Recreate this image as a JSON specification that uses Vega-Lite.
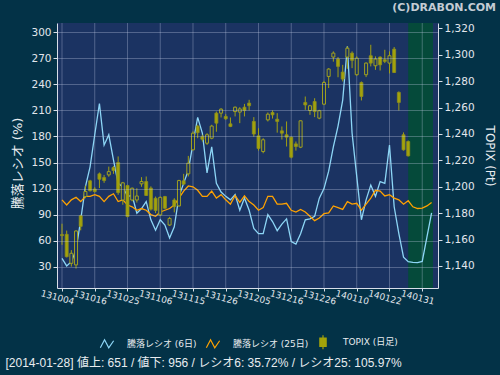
{
  "$schema": "https://vega.github.io/schema/vega-lite/v6.json",
  "width": 381,
  "height": 265,
  "autosize": {"type": "none"},
  "padding": {"left": 57, "top": 23, "right": 62, "bottom": 87},
  "background": "#033247",
  "title": {"text": "(C)DRABON.COM", "anchor": "end", "frame": "group", "dx": 58, "offset": 10, "font": "DejaVu Sans", "fontSize": 11, "fontWeight": "bold", "color": "#c4ccd4"},
  "config": {
    "view": {"fill": "#1b3362", "stroke": null},
    "axis": {"labelFont": "DejaVu Sans", "titleFont": "DejaVu Sans, Noto Sans CJK JP", "labelColor": "#e2e6ec", "titleColor": "#e8ecf0", "titleFontWeight": "normal", "domainColor": "#d8dee8", "tickColor": "#d8dee8", "tickSize": 4, "gridColor": "#c8d0e8", "gridOpacity": 0.32}
  },
  "datasets": {
    "d": [
      {"i":0,"r6":39.6,"r25":107,"o":1163.8,"h":1172,"l":1156,"c":1163},
      {"i":1,"r6":30.8,"r25":101,"o":1164,"h":1166.8,"l":1146.5,"c":1147},
      {"i":2,"r6":35.8,"r25":107,"o":1142,"h":1152,"l":1139.5,"c":1149.6},
      {"i":3,"r6":49,"r25":110,"o":1140.8,"h":1167,"l":1138,"c":1166.5},
      {"i":4,"r6":84,"r25":105,"o":1178,"h":1178.8,"l":1167,"c":1170},
      {"i":5,"r6":122,"r25":111,"o":1192.6,"h":1201,"l":1191.3,"c":1196.4},
      {"i":6,"r6":145,"r25":111,"o":1204.5,"h":1205.3,"l":1196.4,"c":1197},
      {"i":7,"r6":182,"r25":113,"o":1198.3,"h":1199.6,"l":1195.6,"c":1196.4},
      {"i":8,"r6":218,"r25":111,"o":1209.8,"h":1210.8,"l":1199,"c":1205.7},
      {"i":9,"r6":170,"r25":105,"o":1207,"h":1209,"l":1203,"c":1204.7},
      {"i":10,"r6":182,"r25":111,"o":1209,"h":1215.3,"l":1207.6,"c":1211.5},
      {"i":11,"r6":153,"r25":114,"o":1214.6,"h":1215.8,"l":1209.8,"c":1212.3},
      {"i":12,"r6":126,"r25":105,"o":1218.4,"h":1223,"l":1193.9,"c":1195.6},
      {"i":13,"r6":122,"r25":107,"o":1190,"h":1203.7,"l":1186.4,"c":1203},
      {"i":14,"r6":111,"r25":101,"o":1201,"h":1201.5,"l":1177,"c":1177.4},
      {"i":15,"r6":112,"r25":99,"o":1190,"h":1199.4,"l":1189,"c":1198.9},
      {"i":16,"r6":91.5,"r25":95,"o":1190,"h":1198.9,"l":1188,"c":1193},
      {"i":17,"r6":97,"r25":97,"o":1202.2,"h":1207.3,"l":1200,"c":1204},
      {"i":18,"r6":105,"r25":95,"o":1204,"h":1207.8,"l":1193,"c":1193.4},
      {"i":19,"r6":84,"r25":90,"o":1199,"h":1200.3,"l":1182,"c":1183},
      {"i":20,"r6":72,"r25":88,"o":1191.3,"h":1192.6,"l":1180,"c":1182},
      {"i":21,"r6":84,"r25":93,"o":1178.7,"h":1192.6,"l":1177.9,"c":1192},
      {"i":22,"r6":78,"r25":95,"o":1192.6,"h":1193.1,"l":1183,"c":1183.7},
      {"i":23,"r6":63,"r25":97,"o":1171,"h":1177.2,"l":1170.3,"c":1176},
      {"i":24,"r6":76,"r25":101,"o":1190,"h":1191.3,"l":1180.6,"c":1185},
      {"i":25,"r6":111,"r25":109,"o":1185.5,"h":1205.3,"l":1185,"c":1204.7},
      {"i":26,"r6":126,"r25":117,"o":1204.5,"h":1209.8,"l":1201.5,"c":1202},
      {"i":27,"r6":141,"r25":123,"o":1209.8,"h":1223.4,"l":1207.8,"c":1217.9},
      {"i":28,"r6":172,"r25":122,"o":1228,"h":1242,"l":1227.5,"c":1240.6},
      {"i":29,"r6":202,"r25":118,"o":1246,"h":1247,"l":1236.8,"c":1241},
      {"i":30,"r6":184,"r25":111,"o":1238,"h":1239.4,"l":1234.3,"c":1236},
      {"i":31,"r6":138,"r25":111,"o":1233,"h":1240.6,"l":1231.7,"c":1239.4},
      {"i":32,"r6":168,"r25":117,"o":1236.8,"h":1247,"l":1236,"c":1246},
      {"i":33,"r6":126,"r25":109,"o":1255.8,"h":1257,"l":1241.7,"c":1248.2},
      {"i":34,"r6":116,"r25":113,"o":1255.8,"h":1259.6,"l":1252.5,"c":1258.8},
      {"i":35,"r6":111,"r25":107,"o":1253.3,"h":1255,"l":1250.7,"c":1251.5},
      {"i":36,"r6":107,"r25":102,"o":1247.7,"h":1252.5,"l":1245.2,"c":1245.7},
      {"i":37,"r6":113,"r25":112,"o":1257,"h":1260.8,"l":1253.3,"c":1260.3},
      {"i":38,"r6":95,"r25":104,"o":1256.6,"h":1260.3,"l":1248.2,"c":1259},
      {"i":39,"r6":109,"r25":111.5,"o":1260.3,"h":1262.8,"l":1253.3,"c":1257.8},
      {"i":40,"r6":95,"r25":105,"o":1263.4,"h":1265.9,"l":1257.8,"c":1261.4},
      {"i":41,"r6":74,"r25":101,"o":1249.5,"h":1252.8,"l":1238,"c":1240},
      {"i":42,"r6":68,"r25":95,"o":1238.6,"h":1244.4,"l":1227.4,"c":1229},
      {"i":43,"r6":68,"r25":98,"o":1226.7,"h":1236.8,"l":1225.4,"c":1235.6},
      {"i":44,"r6":90,"r25":111,"o":1250.7,"h":1256.3,"l":1249.5,"c":1255},
      {"i":45,"r6":82,"r25":111,"o":1256.3,"h":1257.8,"l":1251.7,"c":1254.5},
      {"i":46,"r6":71.5,"r25":102,"o":1251.2,"h":1255.8,"l":1241,"c":1249.5},
      {"i":47,"r6":79,"r25":102,"o":1242.4,"h":1245.7,"l":1235.8,"c":1240.6},
      {"i":48,"r6":85,"r25":103,"o":1239.4,"h":1249.5,"l":1230.5,"c":1237.6},
      {"i":49,"r6":59,"r25":95,"o":1237.6,"h":1238.1,"l":1221.6,"c":1222.4},
      {"i":50,"r6":56,"r25":93,"o":1232.5,"h":1234.3,"l":1227.4,"c":1230.5},
      {"i":51,"r6":68,"r25":96,"o":1230,"h":1250.2,"l":1229.3,"c":1250},
      {"i":52,"r6":84,"r25":93,"o":1263.9,"h":1268.4,"l":1258.3,"c":1262},
      {"i":53,"r6":85,"r25":88,"o":1257.8,"h":1262.1,"l":1254.5,"c":1261.4},
      {"i":54,"r6":88,"r25":83,"o":1264.6,"h":1267.1,"l":1252.8,"c":1257},
      {"i":55,"r6":109,"r25":86,"o":1252,"h":1258.3,"l":1251.2,"c":1257.6},
      {"i":56,"r6":120,"r25":91,"o":1262.6,"h":1280.3,"l":1261.9,"c":1279},
      {"i":57,"r6":140,"r25":92,"o":1283.6,"h":1289.9,"l":1274.8,"c":1289.2},
      {"i":58,"r6":168,"r25":100,"o":1298.3,"h":1302.6,"l":1294.8,"c":1301.3},
      {"i":59,"r6":192,"r25":98,"o":1296.8,"h":1298.3,"l":1283,"c":1291.2},
      {"i":60,"r6":222,"r25":96,"o":1286.9,"h":1292.4,"l":1279.8,"c":1281.6},
      {"i":61,"r6":284,"r25":105,"o":1298.3,"h":1306.4,"l":1289.4,"c":1305},
      {"i":62,"r6":184,"r25":102,"o":1301.3,"h":1302.6,"l":1289.9,"c":1295.8},
      {"i":63,"r6":134,"r25":103,"o":1284.9,"h":1298.8,"l":1284.1,"c":1297.5},
      {"i":64,"r6":84,"r25":95,"o":1279,"h":1279.8,"l":1265.4,"c":1268.4},
      {"i":65,"r6":107,"r25":102,"o":1284.9,"h":1294.3,"l":1283.1,"c":1293.7},
      {"i":66,"r6":124,"r25":109,"o":1299.3,"h":1307.6,"l":1291.2,"c":1293.7},
      {"i":67,"r6":111,"r25":118,"o":1291.7,"h":1298.8,"l":1288.6,"c":1296.8},
      {"i":68,"r6":128,"r25":117,"o":1298.3,"h":1298.8,"l":1288.1,"c":1292.4},
      {"i":69,"r6":126,"r25":111.5,"o":1296.3,"h":1303.8,"l":1293.7,"c":1295},
      {"i":70,"r6":170,"r25":113,"o":1293.7,"h":1302.6,"l":1285.9,"c":1299.3},
      {"i":71,"r6":99,"r25":109,"o":1304.3,"h":1305.9,"l":1286.2,"c":1286.6},
      {"i":72,"r6":68,"r25":107,"o":1271.5,"h":1272.3,"l":1257.8,"c":1263.9},
      {"i":73,"r6":41,"r25":102,"o":1239.4,"h":1241.2,"l":1227.4,"c":1228},
      {"i":74,"r6":35.72,"r25":105.97,"o":1234.3,"h":1235.1,"l":1223,"c":1223.4},
      {"i":75,"r6":35,"r25":99},
      {"i":76,"r6":34.6,"r25":97},
      {"i":77,"r6":36,"r25":97.5},
      {"i":78,"r6":64,"r25":100},
      {"i":79,"r6":92,"r25":104}
    ],
    "leg": [{"series": "騰落レシオ (6日)"}, {"series": "騰落レシオ (25日)"}, {"series": "TOPIX (日足)"}],
    "zone": [{"start": 74, "end": 79.3}],
    "ticks": [{"g": 0}, {"g": 7}, {"g": 14}, {"g": 21}, {"g": 28}, {"g": 35}, {"g": 42}, {"g": 49}, {"g": 56}, {"g": 63}, {"g": 70}, {"g": 77}]
  },
  "data": {"name": "d"},
  "layer": [
    {"data": {"name": "zone"}, "mark": {"type": "rect", "color": "#054a3a"},
      "encoding": {"x": {"field": "start", "type": "quantitative", "scale": {"domain": [0, 79.3], "nice": false, "zero": false}, "axis": null}, "x2": {"field": "end"}}},
    {"data": {"name": "ticks"}, "mark": {"type": "rule", "color": "#c8d0e8", "opacity": 0.32, "strokeWidth": 1},
      "encoding": {"x": {"field": "g", "type": "quantitative", "axis": null}}},
    {"mark": {"type": "line", "color": "#8dd6f6", "strokeWidth": 1.3},
      "encoding": {
        "x": {"field": "i", "type": "quantitative", "scale": {"domain": [0, 79.3], "nice": false, "zero": false},
          "axis": {"orient": "bottom", "values": [0,7,14,21,28,35,42,49,56,63,70,77],
            "labelExpr": "datum.value == 0 ? '131004' : datum.value == 7 ? '131016' : datum.value == 14 ? '131025' : datum.value == 21 ? '131106' : datum.value == 28 ? '131115' : datum.value == 35 ? '131126' : datum.value == 42 ? '131205' : datum.value == 49 ? '131216' : datum.value == 56 ? '131226' : datum.value == 63 ? '140110' : datum.value == 70 ? '140122' : '140131'",
            "grid": false, "domain": true, "ticks": true, "zindex": 1, "tickSize": 3, "labelAngle": 15, "labelAlign": "center", "labelBaseline": "middle", "labelOffset": -5, "labelPadding": 6, "labelFontSize": 9, "labelFlush": false, "labelOverlap": false, "title": null}},
        "y": {"field": "r6", "type": "quantitative", "scale": {"domain": [5.4, 310.8], "nice": false, "zero": false},
          "axis": {"values": [30,60,90,120,150,180,210,240,270,300], "zindex": 1, "title": "騰落レシオ (%)", "titleFontSize": 13, "titleY": 140, "labelFontSize": 10.5, "grid": true, "titlePadding": 6, "labelPadding": 2}}}},
    {"mark": {"type": "line", "color": "#ffa200", "strokeWidth": 1.3},
      "encoding": {"x": {"field": "i", "type": "quantitative",
          "axis": {"orient": "bottom", "values": [0], "domain": false, "ticks": false, "labels": false, "grid": false, "zindex": 1,
            "title": "[2014-01-28]  値上: 651 / 値下: 956 / レシオ6: 35.72% / レシオ25: 105.97%",
            "titleX": -52, "titleY": 74, "titleAlign": "left", "titleBaseline": "middle", "titleFont": "Liberation Sans, Noto Sans CJK JP", "titleFontSize": 12, "titleColor": "#e8ecf0"}},
        "y": {"field": "r25", "type": "quantitative", "scale": {"domain": [5.4, 310.8], "nice": false, "zero": false}, "axis": null}}},
    {"mark": {"type": "rule", "color": "#a0a014", "strokeWidth": 1},
      "encoding": {"x": {"field": "i", "type": "quantitative", "axis": null},
        "y": {"field": "l", "type": "quantitative", "scale": {"domain": [1123.3, 1324.1], "nice": false, "zero": false},
          "axis": {"orient": "right", "values": [1140,1160,1180,1200,1220,1240,1260,1280,1300,1320], "format": ",d", "title": "TOPIX (Pt)", "titleFontSize": 12, "labelFontSize": 10.5, "grid": false, "titlePadding": 8, "labelPadding": 2, "zindex": 1}},
        "y2": {"field": "h"}}},
    {"transform": [{"filter": "datum.c < datum.o"}], "mark": {"type": "bar", "size": 3, "color": "#a3a30a", "stroke": "#8e8e1e", "strokeWidth": 0.8},
      "encoding": {"x": {"field": "i", "type": "quantitative", "axis": null}, "y": {"field": "o", "type": "quantitative", "scale": {"domain": [1123.3, 1324.1], "nice": false, "zero": false}, "axis": null}, "y2": {"field": "c"}}},
    {"transform": [{"filter": "datum.c >= datum.o"}], "mark": {"type": "bar", "size": 3, "fill": "#1b3362", "stroke": "#a0a020", "strokeWidth": 1},
      "encoding": {"x": {"field": "i", "type": "quantitative", "axis": null}, "y": {"field": "o", "type": "quantitative", "scale": {"domain": [1123.3, 1324.1], "nice": false, "zero": false}, "axis": null}, "y2": {"field": "c"}}},
    {"data": {"name": "leg"}, "mark": {"type": "point", "size": 196, "strokeWidth": 1.2, "opacity": 1},
      "encoding": {
        "x": {"field": "i", "type": "quantitative", "axis": null},
        "stroke": {"field": "series", "type": "nominal", "scale": {"domain": ["騰落レシオ (6日)", "騰落レシオ (25日)", "TOPIX (日足)"], "range": ["#8dd6f6", "#ffa200", "#a3a30a"]},
          "legend": {"orient": "none", "legendX": 42, "legendY": 311, "direction": "horizontal", "title": null, "labelColor": "#e8ecf0", "labelFont": "DejaVu Sans, Noto Sans CJK JP", "labelFontSize": 9, "symbolSize": 196, "symbolStrokeWidth": 1.2, "columnPadding": 6, "labelOffset": 12, "padding": 0}},
        "fill": {"field": "series", "type": "nominal", "scale": {"domain": ["騰落レシオ (6日)", "騰落レシオ (25日)", "TOPIX (日足)"], "range": ["transparent", "transparent", "#a3a30a"]},
          "legend": {"orient": "none", "legendX": 42, "legendY": 311, "direction": "horizontal", "title": null, "labelColor": "#e8ecf0", "labelFont": "DejaVu Sans, Noto Sans CJK JP", "labelFontSize": 9, "symbolSize": 196, "symbolStrokeWidth": 1.2, "columnPadding": 6, "labelOffset": 12, "padding": 0}},
        "shape": {"field": "series", "type": "nominal", "scale": {"domain": ["騰落レシオ (6日)", "騰落レシオ (25日)", "TOPIX (日足)"], "range": ["M-0.95,0.55L-0.35,-0.6L0.25,0.55L0.95,-0.45", "M-0.95,0.55L-0.35,-0.6L0.25,0.55L0.95,-0.45", "M0,-1L0,1M-0.45,-0.6L0.45,-0.6L0.45,0.6L-0.45,0.6Z"]},
          "legend": {"orient": "none", "legendX": 42, "legendY": 311, "direction": "horizontal", "title": null, "labelColor": "#e8ecf0", "labelFont": "DejaVu Sans, Noto Sans CJK JP", "labelFontSize": 9, "symbolSize": 196, "symbolStrokeWidth": 1.2, "columnPadding": 6, "labelOffset": 12, "padding": 0}}
      }}
  ],
  "resolve": {"scale": {"y": "independent"}, "axis": {"x": "independent"}}
}
